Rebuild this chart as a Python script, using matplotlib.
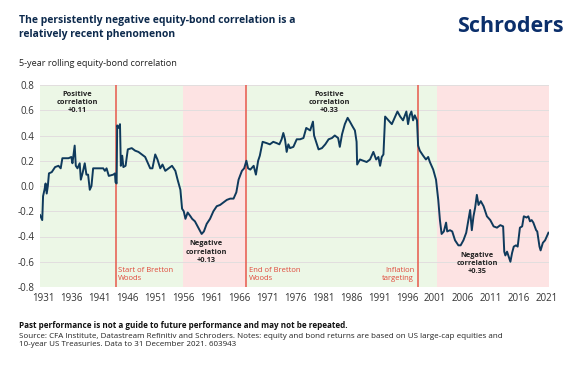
import matplotlib
matplotlib.use("Agg")
import matplotlib.pyplot as plt

plt.rcParams['font.family'] = ['Open Sans', 'DejaVu Sans']

# 5-year rolling equity-bond correlation
years = [1930.4, 1930.8, 1930.95, 1931.2, 1931.4, 1931.6, 1931.8, 1932.0, 1932.5, 1933.1,
         1933.7, 1934.1, 1934.4, 1935.5, 1936.0, 1936.2, 1936.6, 1936.8, 1937.1, 1937.5,
         1937.7, 1938.0, 1938.4, 1938.7, 1939.0, 1939.3, 1939.6, 1939.9, 1940.8, 1941.7,
         1942.0, 1942.3, 1942.7, 1943.5, 1943.8, 1943.9, 1944.1, 1944.2, 1944.5, 1944.7,
         1944.85, 1945.1, 1945.3, 1945.7, 1946.1, 1946.8, 1947.4, 1948.0, 1948.6, 1949.2,
         1950.1, 1950.5, 1951.0, 1951.4, 1951.9, 1952.3, 1952.8, 1953.4, 1954.0, 1954.6,
         1955.0, 1955.5, 1955.8, 1956.1, 1956.4, 1956.8, 1957.3, 1957.6, 1958.1, 1958.7,
         1959.3, 1959.7, 1960.2, 1960.8, 1961.4, 1962.0, 1962.6, 1963.2, 1963.8, 1964.4,
         1965.0, 1965.5, 1965.9, 1966.5, 1966.9, 1967.3, 1967.6, 1968.0, 1968.6, 1969.0,
         1969.4, 1969.7, 1970.2, 1970.9, 1971.5, 1972.1, 1972.7, 1973.2, 1973.6, 1973.9,
         1974.2, 1974.5, 1974.8, 1975.1, 1975.7, 1976.3, 1976.9, 1977.5, 1978.0, 1978.7,
         1979.2, 1979.4, 1979.9, 1980.2, 1980.8, 1981.4, 1982.0, 1982.6, 1983.1, 1983.7,
         1984.0, 1984.4, 1984.9, 1985.4, 1985.8, 1986.3, 1986.7, 1987.0, 1987.1, 1987.6,
         1988.2, 1988.8, 1989.4, 1990.0, 1990.5, 1990.9, 1991.2, 1991.5, 1991.8, 1992.1,
         1992.7, 1993.3, 1993.9, 1994.3, 1994.8, 1995.3, 1995.9, 1996.2, 1996.5, 1996.8,
         1997.1, 1997.4, 1997.8, 1998.0, 1998.3, 1998.9, 1999.4, 1999.8, 2000.1, 2000.7,
         2001.2, 2001.6, 2001.9, 2002.2, 2002.6, 2003.0, 2003.2, 2003.7, 2004.1, 2004.6,
         2005.2, 2005.6, 2006.1, 2006.6, 2007.0, 2007.3, 2007.6, 2007.9, 2008.2, 2008.5,
         2008.8, 2009.2, 2009.7, 2010.3, 2010.9, 2011.5, 2012.1, 2012.7, 2013.2, 2013.4,
         2013.6, 2013.9, 2014.2, 2014.5, 2014.8, 2015.1, 2015.5, 2015.8, 2016.2, 2016.6,
         2016.9, 2017.4, 2017.7, 2018.0, 2018.3, 2018.6, 2019.1, 2019.3, 2019.7, 2019.9,
         2020.3, 2020.7, 2021.0, 2021.3]
corr = [-0.23, -0.27, -0.08, -0.03, 0.02, -0.06, 0.00, 0.10, 0.11, 0.15,
        0.16, 0.14, 0.22, 0.22, 0.23, 0.18, 0.32, 0.16, 0.14, 0.18,
        0.05, 0.10, 0.18, 0.09, 0.09, -0.03, 0.00, 0.14, 0.14, 0.14,
        0.12, 0.14, 0.08, 0.09, 0.10, 0.03, 0.02, 0.48, 0.46, 0.49,
        0.16, 0.24, 0.15, 0.16, 0.29, 0.30, 0.28, 0.27, 0.25, 0.23,
        0.14, 0.14, 0.25, 0.21, 0.14, 0.17, 0.12, 0.14, 0.16, 0.12,
        0.05, -0.03, -0.18, -0.20, -0.26, -0.21, -0.24, -0.26, -0.28, -0.33,
        -0.38, -0.36, -0.30, -0.26, -0.20, -0.16, -0.15, -0.13, -0.11, -0.10,
        -0.10, -0.05, 0.05, 0.12, 0.14, 0.20, 0.14, 0.13, 0.16, 0.09,
        0.20, 0.24, 0.35, 0.34, 0.33, 0.35, 0.34, 0.33, 0.37, 0.42,
        0.37, 0.27, 0.33, 0.30, 0.31, 0.37, 0.37, 0.38, 0.46, 0.44,
        0.51, 0.40, 0.33, 0.29, 0.30, 0.33, 0.37, 0.38, 0.40, 0.38,
        0.31, 0.41, 0.49, 0.54, 0.51, 0.47, 0.44, 0.35, 0.17, 0.21,
        0.20, 0.19, 0.21, 0.27, 0.21, 0.23, 0.16, 0.23, 0.25, 0.55,
        0.52, 0.49, 0.55, 0.59, 0.55, 0.52, 0.59, 0.49, 0.56, 0.59,
        0.52, 0.56, 0.52, 0.32, 0.28, 0.24, 0.21, 0.23, 0.19, 0.13,
        0.05, -0.11, -0.27, -0.38, -0.36, -0.29, -0.36, -0.35, -0.36, -0.43,
        -0.47, -0.47, -0.43, -0.37, -0.27, -0.19, -0.35, -0.24, -0.17, -0.07,
        -0.15, -0.12, -0.16, -0.24, -0.27, -0.32, -0.33, -0.31, -0.32, -0.52,
        -0.55, -0.52, -0.56, -0.60, -0.53, -0.48, -0.47, -0.48, -0.33, -0.32,
        -0.24, -0.25, -0.24, -0.28, -0.27, -0.29, -0.35, -0.36, -0.48, -0.51,
        -0.45, -0.43, -0.40, -0.37]

# Regime shading and event markers
regime_edges = [1930.4, 1956.0, 1967.3, 2001.4, 2021.4]
regime_colors = ['#ecf7e6', '#fde3e3', '#ecf7e6', '#fde3e3']
events = [1943.9, 1967.3, 1997.9]
event_labels = ['Start of Bretton\nWoods', 'End of Bretton\nWoods', 'Inflation\ntargeting']
regime_labels = ['Positive\ncorrelation\n+0.11', 'Negative\ncorrelation\n+0.13',
                 'Positive\ncorrelation\n+0.33', 'Negative\ncorrelation\n+0.35']
regime_label_x = [1937.1, 1960.1, 1982.1, 2008.5]
regime_label_y = [0.755, -0.43, 0.755, -0.52]

tick_years = list(range(1931, 2022, 5))
y_ticks = [-0.8, -0.6, -0.4, -0.2, 0.0, 0.2, 0.4, 0.6, 0.8]

navy = '#0f3a5c'
red = '#e8584c'

fig = plt.figure(figsize=(5.71, 3.66), dpi=100)
ax = fig.add_axes([40 / 571, 1 - 287 / 366, 509 / 571, 202 / 366])

for i in range(len(regime_colors)):
    ax.axvspan(regime_edges[i], regime_edges[i + 1], color=regime_colors[i], lw=0, zorder=0)

for yt in y_ticks:
    ax.axhline(yt, color='#e2dede', lw=0.7, zorder=1)

for ev in events:
    ax.axvline(ev, color=red, lw=1.1, zorder=2)

ax.plot(years, corr, color=navy, lw=1.4, zorder=3)

for lab, lx, ly in zip(regime_labels, regime_label_x, regime_label_y):
    ax.text(lx, ly, lab, ha='center', va='top', fontsize=5.3, fontweight='bold',
            color='#222222', linespacing=1.25, zorder=4)

ax.text(events[0] + 0.5, -0.64, event_labels[0], ha='left', va='top', fontsize=5.5,
        color='#e04a3c', linespacing=1.25)
ax.text(events[1] + 0.5, -0.64, event_labels[1], ha='left', va='top', fontsize=5.5,
        color='#e04a3c', linespacing=1.25)
ax.text(events[2] - 0.6, -0.64, event_labels[2], ha='right', va='top', fontsize=5.5,
        color='#e04a3c', linespacing=1.25)

ax.set_xlim(regime_edges[0], regime_edges[-1])
ax.set_ylim(-0.8, 0.8)
ax.set_xticks(tick_years)
ax.set_xticklabels([str(t) for t in tick_years])
ax.set_yticks(y_ticks)
ax.set_yticklabels(['%.1f' % v for v in y_ticks])
ax.tick_params(length=0, labelsize=7, colors='#333333', pad=4)
for s in ax.spines.values():
    s.set_visible(False)

# Titles and footer
fig.text(19 / 571, 1 - 15 / 366,
         'The persistently negative equity-bond correlation is a\nrelatively recent phenomenon',
         ha='left', va='top', fontsize=7.5, fontweight='bold', color='#0d2a4d', linespacing=1.42)
fig.text(564 / 571, 1 - 27 / 366, 'Schroders', ha='right', va='center', fontsize=15.5,
         fontweight='bold', color='#0b2f6b')
fig.text(19 / 571, 1 - 63 / 366, '5-year rolling equity-bond correlation', ha='left',
         va='center', fontsize=6.6, color='#222222')
fig.text(19 / 571, 1 - 326 / 366,
         'Past performance is not a guide to future performance and may not be repeated.',
         ha='left', va='center', fontsize=5.9, fontweight='bold', color='#111111')
fig.text(19 / 571, 1 - 333 / 366,
         'Source: CFA Institute, Datastream Refinitiv and Schroders. Notes: equity and bond returns are based on US large-cap equities and\n'
         '10-year US Treasuries. Data to 31 December 2021. 603943',
         ha='left', va='top', fontsize=5.75, color='#222222', linespacing=1.25)

fig.savefig('out.png', dpi=100, facecolor='white')
